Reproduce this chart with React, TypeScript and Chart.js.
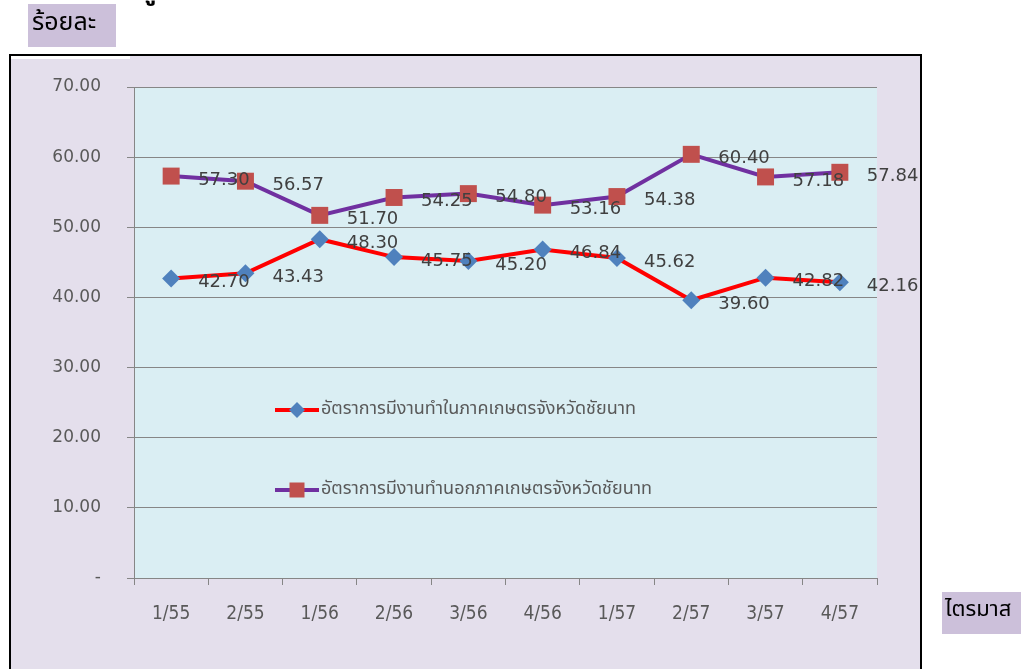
import React, { useEffect, useRef } from "react";
import { Chart, registerables } from "chart.js";

Chart.register(...registerables);

const quarters = ["1/55", "2/55", "1/56", "2/56", "3/56", "4/56", "1/57", "2/57", "3/57", "4/57"];
const inAgri = [42.7, 43.43, 48.3, 45.75, 45.2, 46.84, 45.62, 39.6, 42.82, 42.16];
const nonAgri = [57.3, 56.57, 51.7, 54.25, 54.8, 53.16, 54.38, 60.4, 57.18, 57.84];
const yTicks = [0, 10, 20, 30, 40, 50, 60, 70];
const seriesNames = [
  "อัตราการมีงานทำในภาคเกษตรจังหวัดชัยนาท",
  "อัตราการมีงานทำนอกภาคเกษตรจังหวัดชัยนาท",
];
const yTitle = "ร้อยละ";
const xTitle = "ไตรมาส";

const W = 1028;
const H = 669;
const baseFont = "'DejaVu Sans', 'Noto Sans', sans-serif";
const thaiFont = "'Noto Sans Thai', 'Noto Sans Thai UI', 'Noto Sans', 'DejaVu Sans', sans-serif";

const decorPlugin = {
  id: "decor",
  beforeDraw(chart: any) {
    const ctx = chart.ctx;
    const ca = chart.chartArea;
    ctx.save();
    ctx.fillStyle = "#ffffff";
    ctx.fillRect(0, 0, W, H);
    // clipped heading glyph from the line above
    ctx.fillStyle = "#000000";
    ctx.font = "bold 26px " + thaiFont;
    ctx.textAlign = "left";
    ctx.textBaseline = "alphabetic";
    ctx.fillText("ดู", 140, -1);
    // outer lavender frame
    ctx.fillStyle = "#e4dfec";
    ctx.fillRect(10, 55, 911, H - 55);
    ctx.strokeStyle = "#000000";
    ctx.lineWidth = 2;
    ctx.beginPath();
    ctx.moveTo(10, H + 5);
    ctx.lineTo(10, 55);
    ctx.lineTo(921, 55);
    ctx.lineTo(921, H + 5);
    ctx.stroke();
    ctx.fillStyle = "#ffffff";
    ctx.fillRect(11, 56, 119, 3);
    // plot background
    ctx.fillStyle = "#daeef3";
    ctx.fillRect(ca.left, ca.top, ca.right - ca.left, ca.bottom - ca.top);
    // title boxes
    ctx.fillStyle = "#ccc0da";
    ctx.fillRect(28, 4, 88, 43);
    ctx.fillRect(942, 592, 79, 42);
    ctx.fillStyle = "#000000";
    ctx.textBaseline = "middle";
    ctx.textAlign = "left";
    ctx.font = "25px " + thaiFont;
    ctx.fillText(yTitle, 32, 25);
    ctx.font = "22px " + thaiFont;
    ctx.fillText(xTitle, 945, 612);
    ctx.restore();
  },
  afterDatasetsDraw(chart: any) {
    const ctx = chart.ctx;
    const ca = chart.chartArea;
    ctx.save();
    // data labels
    ctx.font = "18px " + baseFont;
    ctx.fillStyle = "#404040";
    ctx.textAlign = "left";
    ctx.textBaseline = "middle";
    chart.data.datasets.forEach((ds: any, i: number) => {
      const meta = chart.getDatasetMeta(i);
      meta.data.forEach((pt: any, j: number) => {
        ctx.fillText(Number(ds.data[j]).toFixed(2), pt.x + 27, pt.y + 4);
      });
    });
    // legend
    const lx = ca.left + 141;
    const ly = [ca.top + 323, ca.top + 403];
    chart.data.datasets.forEach((ds: any, i: number) => {
      const y = ly[i];
      ctx.strokeStyle = ds.borderColor;
      ctx.lineWidth = 4;
      ctx.beginPath();
      ctx.moveTo(lx, y);
      ctx.lineTo(lx + 44, y);
      ctx.stroke();
      ctx.fillStyle = ds.pointBackgroundColor;
      const cx = lx + 22;
      if (i === 0) {
        ctx.beginPath();
        ctx.moveTo(cx - 8, y);
        ctx.lineTo(cx, y - 8);
        ctx.lineTo(cx + 8, y);
        ctx.lineTo(cx, y + 8);
        ctx.closePath();
        ctx.fill();
      } else {
        ctx.fillRect(cx - 7.5, y - 7.5, 15, 15);
      }
      ctx.fillStyle = "#595959";
      ctx.font = "18px " + thaiFont;
      ctx.textAlign = "left";
      ctx.textBaseline = "middle";
      ctx.fillText(ds.label, lx + 46, y);
    });
    ctx.restore();
  },
};

export default function App() {
  const ref = useRef<HTMLCanvasElement | null>(null);
  useEffect(() => {
    if (!ref.current) return;
    const chart = new Chart(ref.current, {
      type: "line",
      data: {
        labels: quarters,
        datasets: [
          {
            label: seriesNames[0],
            data: inAgri,
            borderColor: "#ff0000",
            borderWidth: 4,
            pointStyle: "rectRot",
            pointRadius: 9,
            pointBackgroundColor: "#4f81bd",
            pointBorderColor: "#4f81bd",
            pointBorderWidth: 0,
            tension: 0,
          },
          {
            label: seriesNames[1],
            data: nonAgri,
            borderColor: "#7030a0",
            borderWidth: 4,
            pointStyle: "rect",
            pointRadius: 12,
            pointBackgroundColor: "#c0504d",
            pointBorderColor: "#c0504d",
            pointBorderWidth: 0,
            tension: 0,
          },
        ],
      },
      options: {
        responsive: false,
        animation: false,
        events: [],
        layout: { padding: { left: 0, right: 151, top: 87, bottom: 0 } },
        plugins: {
          legend: { display: false },
          tooltip: { enabled: false },
          title: { display: false },
        },
        scales: {
          x: {
            type: "category",
            offset: true,
            grid: {
              offset: true,
              drawOnChartArea: false,
              drawTicks: true,
              tickLength: 7,
              color: "#868686",
            },
            border: { color: "#868686", width: 1 },
            ticks: {
              padding: 18,
              color: "#595959",
              font: { family: "'Liberation Sans Narrow', 'DejaVu Sans Condensed', sans-serif", size: 19 },
              maxRotation: 0,
              autoSkip: false,
            },
            afterFit: (s: any) => {
              s.height = 91;
            },
          },
          y: {
            min: 0,
            max: 70,
            afterBuildTicks: (s: any) => {
              s.ticks = yTicks.map((v) => ({ value: v }));
            },
            grid: {
              color: "#868686",
              tickLength: 7,
              drawTicks: true,
            },
            border: { color: "#868686", width: 1 },
            ticks: {
              padding: 26,
              color: "#595959",
              font: { family: baseFont, size: 17 },
              callback: (v: any) => (Number(v) === 0 ? "-" : Number(v).toFixed(2)),
            },
            afterFit: (s: any) => {
              s.width = 134;
            },
          },
        },
      },
      plugins: [decorPlugin],
    });
    return () => chart.destroy();
  }, []);
  return (
    <div style={{ position: "absolute", left: 0, top: 0, width: W, height: H }}>
      <canvas ref={ref} width={W} height={H} style={{ display: "block" }} />
    </div>
  );
}
